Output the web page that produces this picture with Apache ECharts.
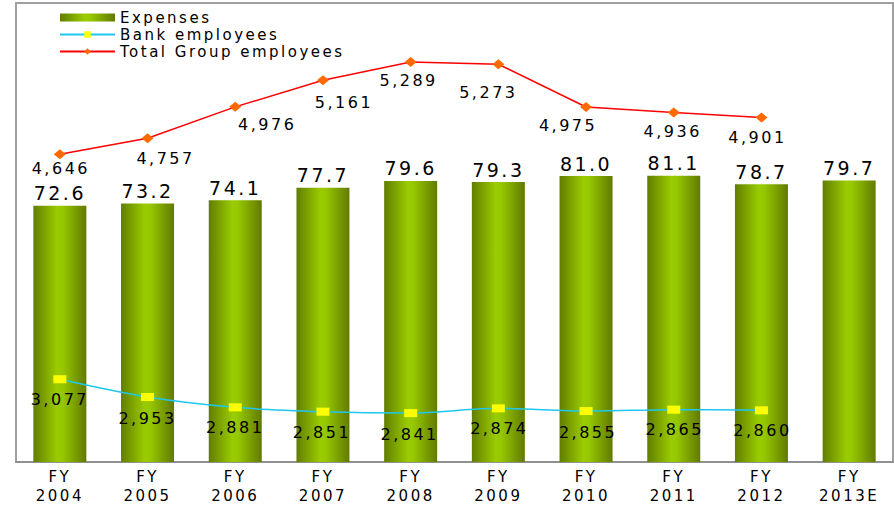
<!DOCTYPE html>
<html>
<head>
<meta charset="utf-8">
<script src="https://cdn.jsdelivr.net/npm/echarts@6/dist/echarts.min.js"></script>
<style>
  html, body { margin: 0; padding: 0; background: #fff; }
  #chart { width: 894px; height: 505px; letter-spacing: 2.5px; }
</style>
</head>
<body>
<div id="chart"></div>
<script>
// ---- data ----
const categories = ['FY\n2004', 'FY\n2005', 'FY\n2006', 'FY\n2007', 'FY\n2008', 'FY\n2009', 'FY\n2010', 'FY\n2011', 'FY\n2012', 'FY\n2013E'];
const expenses = [72.6, 73.2, 74.1, 77.7, 79.6, 79.3, 81.0, 81.1, 78.7, 79.7];
const bankEmployees = [3077, 2953, 2881, 2851, 2841, 2874, 2855, 2865, 2860, null];
const totalEmployees = [4646, 4757, 4976, 5161, 5289, 5273, 4975, 4936, 4901, null];

// label placement (style only)
const totalLabelOffsets = [[1, 14], [18, 20], [32, 18], [21, 22], [-2, 19], [-10, 28], [-18, 19], [-1, 19], [-4, 20]];
const bankLabelOffsets = [[0, 20], [0, 21], [0, 20], [-1, 21], [-1, 21], [1, 20], [2, 21], [1, 20], [1, 20]];

const FONT = 'DejaVu Sans';
const barGradient = new echarts.graphic.LinearGradient(0, 0, 1, 0, [
  { offset: 0, color: '#627d00' },
  { offset: 0.45, color: '#9acc00' },
  { offset: 0.55, color: '#96c800' },
  { offset: 1, color: '#627a00' }
]);
const fmtInt = v => Number(v).toLocaleString('en-US');

const chart = echarts.init(document.getElementById('chart'), null, { renderer: 'svg' });
chart.setOption({
  animation: false,
  backgroundColor: '#fff',
  textStyle: { fontFamily: FONT },
  grid: { left: 16, right: 1, top: 3, bottom: 42, show: true, borderColor: '#a0a0a0', borderWidth: 2 },
  legend: {
    orient: 'vertical',
    left: 54, top: 5,
    itemWidth: 55, itemHeight: 8, itemGap: 2,
    textStyle: { fontFamily: FONT, fontSize: 15, color: '#000' },
    data: [
      { name: 'Expenses', icon: 'rect' },
      { name: 'Bank employees' },
      { name: 'Total Group employees' }
    ]
  },
  xAxis: {
    type: 'category',
    data: categories,
    boundaryGap: true,
    axisLine: { lineStyle: { color: '#909090', width: 2 } },
    axisTick: { inside: true, length: 4, lineStyle: { color: '#909090' } },
    axisLabel: { color: '#000', fontFamily: FONT, fontSize: 15, lineHeight: 19, margin: 5, interval: 0 }
  },
  yAxis: [
    { type: 'value', min: 0, max: 130, show: false, splitLine: { show: false } },
    { type: 'value', min: 2500, max: 5700, show: false, splitLine: { show: false } }
  ],
  series: [
    {
      name: 'Expenses',
      type: 'bar',
      yAxisIndex: 0,
      data: expenses,
      barWidth: 53,
      itemStyle: { color: barGradient },
      label: {
        show: true, position: 'top', distance: 3,
        color: '#000', fontFamily: FONT, fontSize: 19,
        formatter: p => p.value.toFixed(1)
      },
      z: 1
    },
    {
      name: 'Bank employees',
      type: 'line',
      yAxisIndex: 1,
      smooth: 0.3,
      data: bankEmployees.map((v, i) => ({ value: v, label: { offset: bankLabelOffsets[i] } })),
      symbol: 'rect',
      symbolSize: [13, 8],
      itemStyle: { color: '#ffff00', borderWidth: 0 },
      lineStyle: { color: '#1ec8f0', width: 1.5 },
      label: {
        show: true, position: 'inside',
        color: '#000', fontFamily: FONT, fontSize: 16,
        formatter: p => fmtInt(p.value)
      },
      z: 3
    },
    {
      name: 'Total Group employees',
      type: 'line',
      yAxisIndex: 1,
      data: totalEmployees.map((v, i) => ({ value: v, label: { offset: totalLabelOffsets[i] } })),
      symbol: 'diamond',
      symbolSize: [12, 10],
      itemStyle: { color: '#ff6a00', borderWidth: 0 },
      lineStyle: { color: '#ff0000', width: 1.5 },
      label: {
        show: true, position: 'inside',
        color: '#000', fontFamily: FONT, fontSize: 16,
        formatter: p => fmtInt(p.value)
      },
      z: 3
    }
  ]
});
</script>
</body>
</html>
